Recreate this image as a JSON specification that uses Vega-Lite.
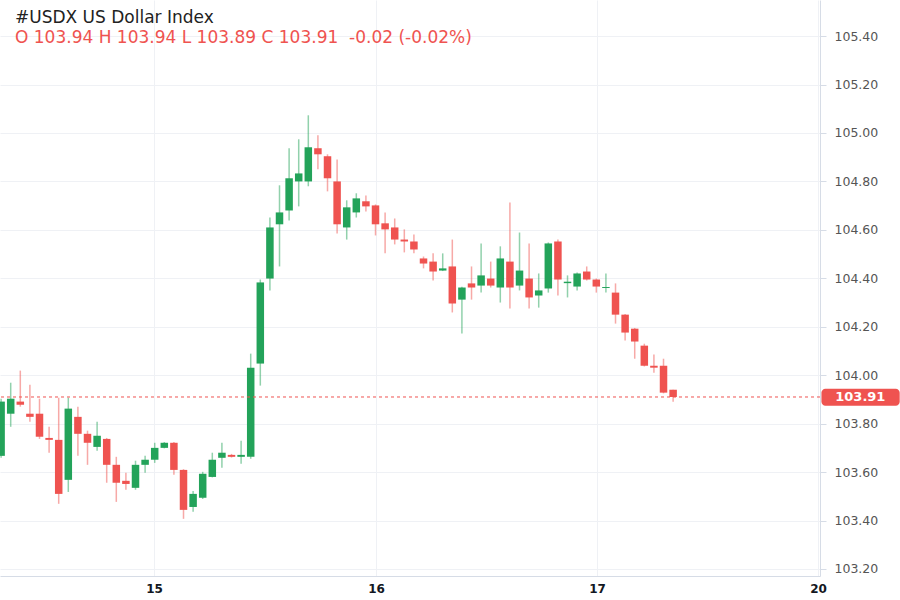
{
  "$schema": "https://vega.github.io/schema/vega-lite/v6.json",
  "width": 820,
  "height": 576,
  "autosize": {"type": "none"},
  "padding": {"left": 0, "top": 0, "right": 80, "bottom": 24},
  "background": "white",
  "title": {
    "text": "#USDX US Dollar Index",
    "subtitle": "O 103.94 H 103.94 L 103.89 C 103.91\u00a0\u00a0-0.02 (-0.02%)",
    "anchor": "start",
    "frame": "group",
    "orient": "top",
    "offset": -42,
    "dx": 15,
    "dy": 5,
    "font": "DejaVu Sans",
    "fontSize": 17,
    "fontWeight": "normal",
    "color": "#222222",
    "subtitleFont": "DejaVu Sans",
    "subtitleFontSize": 17,
    "subtitleColor": "#ef5350",
    "subtitlePadding": 3
  },
  "config": {
    "view": {"stroke": null},
    "axis": {"labelFont": "DejaVu Sans", "titleFont": "DejaVu Sans"}
  },
  "data": {
    "values": [
      {"i": -1, "o": 103.667, "h": 103.903, "l": 103.659, "c": 103.891},
      {"i": 0, "o": 103.841, "h": 103.969, "l": 103.787, "c": 103.903},
      {"i": 1, "o": 103.891, "h": 104.019, "l": 103.870, "c": 103.878},
      {"i": 2, "o": 103.841, "h": 103.961, "l": 103.808, "c": 103.828},
      {"i": 3, "o": 103.841, "h": 103.903, "l": 103.737, "c": 103.746},
      {"i": 4, "o": 103.741, "h": 103.787, "l": 103.680, "c": 103.733},
      {"i": 5, "o": 103.733, "h": 103.907, "l": 103.469, "c": 103.510},
      {"i": 6, "o": 103.568, "h": 103.907, "l": 103.518, "c": 103.862},
      {"i": 7, "o": 103.828, "h": 103.870, "l": 103.667, "c": 103.758},
      {"i": 8, "o": 103.758, "h": 103.771, "l": 103.630, "c": 103.721},
      {"i": 9, "o": 103.704, "h": 103.808, "l": 103.688, "c": 103.750},
      {"i": 10, "o": 103.737, "h": 103.741, "l": 103.556, "c": 103.630},
      {"i": 11, "o": 103.630, "h": 103.663, "l": 103.477, "c": 103.556},
      {"i": 12, "o": 103.564, "h": 103.597, "l": 103.527, "c": 103.551},
      {"i": 13, "o": 103.535, "h": 103.647, "l": 103.527, "c": 103.630},
      {"i": 14, "o": 103.630, "h": 103.667, "l": 103.597, "c": 103.651},
      {"i": 15, "o": 103.651, "h": 103.721, "l": 103.638, "c": 103.700},
      {"i": 16, "o": 103.700, "h": 103.724, "l": 103.698, "c": 103.721},
      {"i": 17, "o": 103.721, "h": 103.724, "l": 103.589, "c": 103.609},
      {"i": 18, "o": 103.609, "h": 103.612, "l": 103.407, "c": 103.444},
      {"i": 19, "o": 103.456, "h": 103.522, "l": 103.436, "c": 103.510},
      {"i": 20, "o": 103.494, "h": 103.601, "l": 103.489, "c": 103.593},
      {"i": 21, "o": 103.580, "h": 103.680, "l": 103.578, "c": 103.651},
      {"i": 22, "o": 103.659, "h": 103.721, "l": 103.618, "c": 103.680},
      {"i": 23, "o": 103.671, "h": 103.675, "l": 103.660, "c": 103.663},
      {"i": 24, "o": 103.663, "h": 103.729, "l": 103.634, "c": 103.671},
      {"i": 25, "o": 103.663, "h": 104.089, "l": 103.655, "c": 104.031},
      {"i": 26, "o": 104.048, "h": 104.395, "l": 103.957, "c": 104.383},
      {"i": 27, "o": 104.399, "h": 104.651, "l": 104.350, "c": 104.610},
      {"i": 28, "o": 104.623, "h": 104.784, "l": 104.449, "c": 104.672},
      {"i": 29, "o": 104.680, "h": 104.937, "l": 104.639, "c": 104.813},
      {"i": 30, "o": 104.800, "h": 104.974, "l": 104.697, "c": 104.833},
      {"i": 31, "o": 104.800, "h": 105.073, "l": 104.780, "c": 104.941},
      {"i": 32, "o": 104.937, "h": 104.991, "l": 104.850, "c": 104.912},
      {"i": 33, "o": 104.904, "h": 104.912, "l": 104.759, "c": 104.813},
      {"i": 34, "o": 104.800, "h": 104.891, "l": 104.585, "c": 104.623},
      {"i": 35, "o": 104.610, "h": 104.722, "l": 104.560, "c": 104.693},
      {"i": 36, "o": 104.672, "h": 104.751, "l": 104.651, "c": 104.730},
      {"i": 37, "o": 104.718, "h": 104.742, "l": 104.676, "c": 104.697},
      {"i": 38, "o": 104.701, "h": 104.705, "l": 104.577, "c": 104.623},
      {"i": 39, "o": 104.627, "h": 104.672, "l": 104.503, "c": 104.602},
      {"i": 40, "o": 104.610, "h": 104.647, "l": 104.540, "c": 104.560},
      {"i": 41, "o": 104.560, "h": 104.602, "l": 104.507, "c": 104.552},
      {"i": 42, "o": 104.552, "h": 104.581, "l": 104.503, "c": 104.519},
      {"i": 43, "o": 104.482, "h": 104.490, "l": 104.441, "c": 104.461},
      {"i": 44, "o": 104.469, "h": 104.503, "l": 104.391, "c": 104.428},
      {"i": 45, "o": 104.432, "h": 104.503, "l": 104.430, "c": 104.441},
      {"i": 46, "o": 104.449, "h": 104.560, "l": 104.259, "c": 104.296},
      {"i": 47, "o": 104.312, "h": 104.365, "l": 104.172, "c": 104.362},
      {"i": 48, "o": 104.379, "h": 104.449, "l": 104.312, "c": 104.362},
      {"i": 49, "o": 104.370, "h": 104.544, "l": 104.341, "c": 104.412},
      {"i": 50, "o": 104.399, "h": 104.469, "l": 104.362, "c": 104.370},
      {"i": 51, "o": 104.362, "h": 104.532, "l": 104.300, "c": 104.482},
      {"i": 52, "o": 104.469, "h": 104.713, "l": 104.275, "c": 104.362},
      {"i": 53, "o": 104.370, "h": 104.589, "l": 104.350, "c": 104.432},
      {"i": 54, "o": 104.399, "h": 104.544, "l": 104.275, "c": 104.321},
      {"i": 55, "o": 104.329, "h": 104.420, "l": 104.279, "c": 104.350},
      {"i": 56, "o": 104.358, "h": 104.548, "l": 104.341, "c": 104.544},
      {"i": 57, "o": 104.552, "h": 104.560, "l": 104.329, "c": 104.395},
      {"i": 58, "o": 104.380, "h": 104.412, "l": 104.321, "c": 104.386},
      {"i": 59, "o": 104.366, "h": 104.424, "l": 104.350, "c": 104.420},
      {"i": 60, "o": 104.428, "h": 104.449, "l": 104.391, "c": 104.395},
      {"i": 61, "o": 104.395, "h": 104.399, "l": 104.341, "c": 104.366},
      {"i": 62, "o": 104.360, "h": 104.420, "l": 104.341, "c": 104.364},
      {"i": 63, "o": 104.341, "h": 104.379, "l": 104.213, "c": 104.250},
      {"i": 64, "o": 104.250, "h": 104.253, "l": 104.143, "c": 104.176},
      {"i": 65, "o": 104.192, "h": 104.195, "l": 104.068, "c": 104.139},
      {"i": 66, "o": 104.122, "h": 104.130, "l": 104.036, "c": 104.039},
      {"i": 67, "o": 104.039, "h": 104.085, "l": 104.010, "c": 104.031},
      {"i": 68, "o": 104.039, "h": 104.068, "l": 103.925, "c": 103.928},
      {"i": 69, "o": 103.940, "h": 103.940, "l": 103.890, "c": 103.910}
    ]
  },
  "layer": [
    {
      "mark": {"type": "rule", "strokeWidth": 1.5, "opacity": 0.5, "clip": true},
      "encoding": {
        "x": {
          "field": "i",
          "type": "quantitative",
          "scale": {"domain": [-1.115, 84.3], "nice": false, "zero": false},
          "axis": {
            "orient": "bottom",
            "title": null,
            "values": [14.93, 38.05, 61.07, 84.1],
            "labelExpr": "datum.value < 20 ? '15' : datum.value < 45 ? '16' : datum.value < 70 ? '17' : '20'",
            "grid": true,
            "gridColor": "#eff1f5",
            "domain": true,
            "domainColor": "#d6dce6",
            "ticks": false,
            "labelPadding": 7,
            "labelFontSize": 12,
            "labelColor": "#131722",
            "labelFontWeight": "bold"
          }
        },
        "y": {
          "field": "l",
          "type": "quantitative",
          "scale": {"domain": [103.171, 105.549], "nice": false, "zero": false},
          "axis": {
            "orient": "right",
            "title": null,
            "values": [103.2, 103.4, 103.6, 103.8, 104.0, 104.2, 104.4, 104.6, 104.8, 105.0, 105.2, 105.4],
            "format": ".2f",
            "grid": true,
            "gridColor": "#eff1f5",
            "domainColor": "#d6dce6",
            "tickColor": "#d6dce6",
            "tickSize": 6,
            "labelPadding": 8,
            "labelFontSize": 12.5,
            "labelColor": "#555555"
          }
        },
        "y2": {"field": "h"},
        "color": {
          "condition": {"test": "datum.c >= datum.o", "value": "#23a35a"},
          "value": "#ef5350"
        }
      }
    },
    {
      "mark": {"type": "rule", "strokeWidth": 7.5, "clip": true},
      "encoding": {
        "x": {"field": "i", "type": "quantitative"},
        "y": {"field": "o", "type": "quantitative"},
        "y2": {"field": "c"},
        "color": {
          "condition": {"test": "datum.c >= datum.o", "value": "#23a35a"},
          "value": "#ef5350"
        }
      }
    },
    {
      "data": {"values": [{"last": 103.91}]},
      "mark": {"type": "rule", "color": "#ef5350", "strokeWidth": 1, "strokeDash": [3, 3]},
      "encoding": {
        "y": {"field": "last", "type": "quantitative"}
      }
    },
    {
      "data": {"values": [{"last": 103.91}]},
      "mark": {"type": "rect", "color": "#ef5350", "cornerRadius": 4},
      "encoding": {
        "x": {"datum": 84.45},
        "x2": {"datum": 92.6},
        "y": {"datum": 103.944},
        "y2": {"datum": 103.874}
      }
    },
    {
      "data": {"values": [{"last": 103.91}]},
      "mark": {"type": "text", "color": "white", "font": "DejaVu Sans", "fontSize": 13, "fontWeight": "bold", "align": "center", "baseline": "middle"},
      "encoding": {
        "x": {"datum": 88.5},
        "y": {"field": "last", "type": "quantitative"},
        "text": {"field": "last", "type": "quantitative", "format": ".2f"}
      }
    }
  ]
}
